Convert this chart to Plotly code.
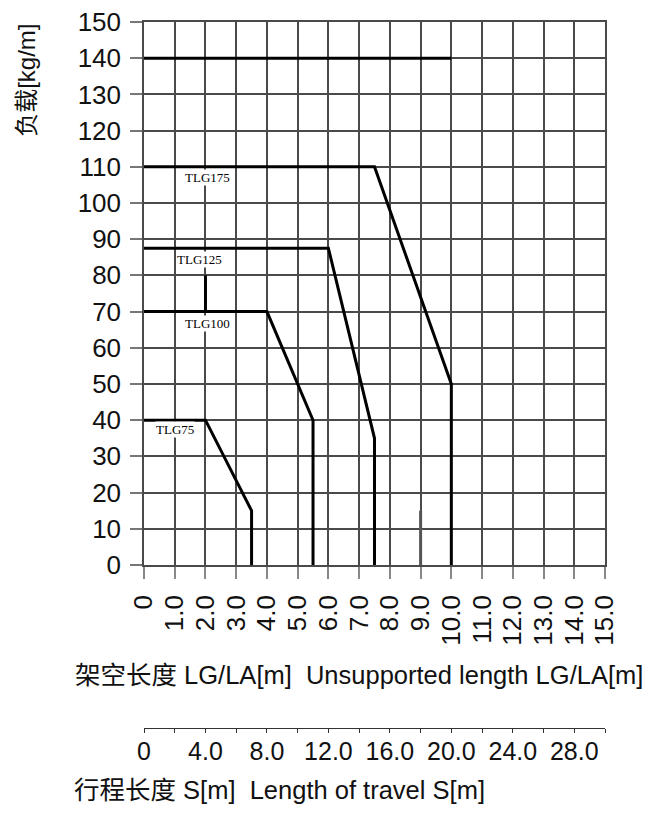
import plotly.graph_objects as go

# ---- data ----
x_ticks = list(range(0, 16))
x_ticktext = ["0"] + [f"{v:.1f}" for v in range(1, 16)]
y_ticks = list(range(0, 151, 10))
y_ticktext = [str(v) for v in y_ticks]
travel_ticks = list(range(0, 31, 2))
travel_ticktext = ["0" if v == 0 else (f"{v:.1f}" if v % 4 == 0 and v < 30 else "") for v in travel_ticks]

max_x = [0, 10]
max_y = [140, 140]
tlg175_x = [0, 7.5, 10, 10]
tlg175_y = [110, 110, 50, 0]
tlg125_x = [0, 6, 7.5, 7.5]
tlg125_y = [87.5, 87.5, 35, 0]
tlg100_x = [0, 4, 5.5, 5.5]
tlg100_y = [70, 70, 40, 0]
tlg75_x = [0, 2, 3.5, 3.5]
tlg75_y = [40, 40, 15, 0]
link_x = [2, 2]
link_y = [70, 80]
mark_x = [9, 9]
mark_y = [0, 15]

labels = ["TLG175", "TLG125", "TLG100", "TLG75"]
label_x = [2.08, 1.8, 2.08, 1.0]
label_y = [107.0, 84.3, 66.7, 37.3]

FONT = "Liberation Sans, Arial, Noto Sans CJK SC, sans-serif"

fig = go.Figure()
line = dict(color="black", width=3)
for xs, ys in [(max_x, max_y), (tlg175_x, tlg175_y), (tlg125_x, tlg125_y),
               (tlg100_x, tlg100_y), (tlg75_x, tlg75_y), (link_x, link_y)]:
    fig.add_trace(go.Scatter(x=xs, y=ys, mode="lines", line=line, showlegend=False, hoverinfo="skip"))
fig.add_trace(go.Scatter(x=mark_x, y=mark_y, mode="lines", line=dict(color="#555555", width=3),
                         showlegend=False, hoverinfo="skip"))
# dummy trace for the travel axis
fig.add_trace(go.Scatter(x=[0, 30], y=[None, None], xaxis="x2", mode="lines", showlegend=False,
                         hoverinfo="skip"))

for t, lx, ly in zip(labels, label_x, label_y):
    fig.add_annotation(x=lx, y=ly, xref="x", yref="y", text=t, showarrow=False,
                       xanchor="center", yanchor="middle",
                       font=dict(family="Liberation Serif, Times New Roman, serif", size=13, color="black"),
                       bgcolor="white", borderpad=0)

fig.add_annotation(x=-0.254, y=0.9207, xref="paper", yref="paper", text="负载[kg/m]", textangle=-90,
                   xanchor="center", yanchor="middle",
                   showarrow=False, font=dict(family=FONT, size=24, color="#111"))
fig.add_annotation(x=0.466, y=0.1067, xref="paper", yref="paper",
                   xanchor="center", yanchor="middle",
                   text="架空长度 LG/LA[m]  Unsupported length LG/LA[m]", showarrow=False,
                   font=dict(family=FONT, size=25.5, color="#111"))
fig.add_annotation(x=0.295, y=-0.0506, xref="paper", yref="paper",
                   xanchor="center", yanchor="middle",
                   text="行程长度 S[m]  Length of travel S[m]", showarrow=False,
                   font=dict(family=FONT, size=25.5, color="#111"))

grid = "#4a4a4a"
fig.update_layout(
    width=658, height=815,
    margin=dict(l=136, r=61, t=14, b=70, autoexpand=False),
    paper_bgcolor="white", plot_bgcolor="white",
    font=dict(family=FONT, size=26, color="#111"),
    xaxis=dict(range=[0, 15], tickvals=x_ticks, ticktext=x_ticktext, tickangle=-90,
               showgrid=True, gridcolor=grid, gridwidth=1.5, zeroline=False,
               showline=True, linecolor=grid, linewidth=1.5, mirror=True,
               ticks="outside", ticklen=12, tickcolor="#888", tickwidth=1.5,
               ticklabelstandoff=6, ticklabeloverflow="allow", automargin=False,
               anchor="y", fixedrange=True),
    yaxis=dict(range=[0, 150], tickvals=y_ticks, ticktext=y_ticktext, domain=[0.2572, 1],
               showgrid=True, gridcolor=grid, gridwidth=1.5, zeroline=False,
               showline=True, linecolor=grid, linewidth=1.5, mirror=True,
               ticks="outside", ticklen=12, tickcolor="#777", tickwidth=1.5,
               ticklabelstandoff=4, ticklabeloverflow="allow", automargin=False,
               fixedrange=True),
    xaxis2=dict(range=[0, 30], tickvals=travel_ticks, ticktext=travel_ticktext, tickangle=0,
                overlaying="x", anchor="free", position=0.0342, side="bottom",
                showgrid=False, zeroline=False, showline=True, linecolor="#333", linewidth=1,
                ticks="outside", ticklen=4, tickcolor="#333", tickwidth=1,
                tickfont=dict(size=25), ticklabeloverflow="allow", automargin=False,
                ticklabelstandoff=-3, fixedrange=True),
)

fig.write_html("out.html")
